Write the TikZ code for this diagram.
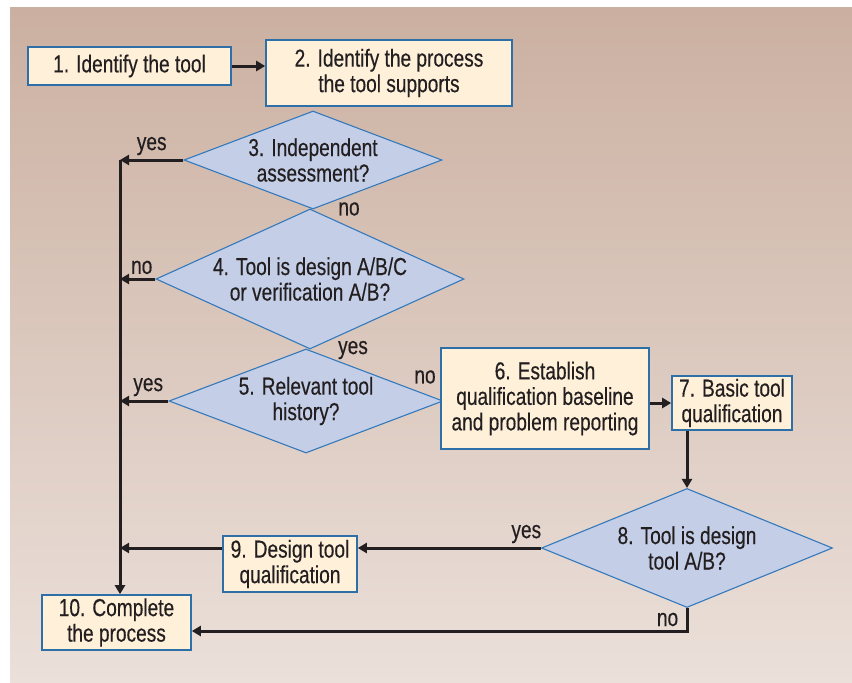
\documentclass[tikz,border=0pt]{standalone}
\usepackage{fontspec}
\setmainfont[FakeStretch=0.78, FakeBold=0.35]{Liberation Sans}
\usetikzlibrary{shapes.geometric, arrows.meta}

\definecolor{bgtop}{HTML}{CBB0A1}
\definecolor{bgbottom}{HTML}{EBE0DA}
\definecolor{boxfill}{HTML}{FFF0D9}
\definecolor{boxline}{HTML}{2F6FA8}
\definecolor{decfill}{HTML}{C4CEE7}
\definecolor{decline}{HTML}{3479BC}
\definecolor{ink}{HTML}{231F20}

\tikzset{
  stepbox/.style={draw=boxline, fill=boxfill, line width=1.6pt, align=center, inner sep=0pt, text=ink},
  decision/.style={diamond, draw=decline, fill=decfill, line width=1.1pt, align=center, inner sep=0pt, text=ink},
  flow/.style={draw=ink, line width=3pt},
  answer/.style={text=ink}
}

\begin{document}
\begin{tikzpicture}[x=1pt, y=-1pt, font=\fontsize{24.5}{25.5}\selectfont,
    >={Triangle[length=9pt,width=10pt]}]
    \useasboundingbox (0,0) rectangle (852,683);
    \shade[top color=bgtop, bottom color=bgbottom] (10,7) rectangle (852,683);

    \node[stepbox, minimum width=203pt, minimum height=38pt] (s1) at (129.5,66) {1. Identify the tool};
    \node[stepbox, minimum width=246pt, minimum height=66pt] (s2) at (389,73) {2. Identify the process\\the tool supports};

    \node[decision, aspect=2.63, minimum width=258pt, minimum height=98pt] (d3) at (313,160) {3. Independent\\assessment?};
    \node[decision, aspect=2.2, minimum width=308pt, minimum height=140pt] (d4) at (310,279) {4. Tool is design A/B/C\\or verification A/B?};
    \node[decision, aspect=2.63, minimum width=274pt, minimum height=104pt] (d5) at (306,401) {5. Relevant tool\\history?};

    \node[stepbox, minimum width=208pt, minimum height=101pt] (s6) at (545,398.5) {6. Establish\\qualification baseline\\and problem reporting};
    \node[stepbox, minimum width=120pt, minimum height=54pt] (s7) at (732,403) {7. Basic tool\\qualification};

    \node[decision, aspect=2.45, minimum width=291pt, minimum height=119pt] (d8) at (687,548) {8. Tool is design\\tool A/B?};
    \node[stepbox, minimum width=134pt, minimum height=56pt] (s9) at (290,564) {9. Design tool\\qualification};
    \node[stepbox, minimum width=149pt, minimum height=55pt] (s10) at (116.5,622.5) {10. Complete\\the process};

    % answers without a connector
    \node[answer] (no3) at (349,209) {no};
    \node[answer] (yes4) at (353,350) {yes};
    \node[answer] (no5) at (425,377) {no};

    \coordinate (trunk) at (120,160);

    \draw[flow, ->] (s1.east) -- (s1.east -| s2.west);
    \draw[flow, ->] (d3.west) -- node[answer, midway, above] {yes} (trunk);
    \draw[flow, ->] (trunk) -- (trunk |- s10.north);
    \draw[flow, ->] (d4.west) -- node[answer, midway, above, xshift=4pt] {no} (d4.west -| trunk);
    \draw[flow, ->] (d5.west) -- node[answer, midway, above, xshift=4pt] {yes} (d5.west -| trunk);
    \draw[flow, ->] (s6.east |- s7.west) -- (s7.west);
    \draw[flow, ->] (d8.north |- s7.south) -- (d8.north);
    \draw[flow, ->] (d8.west) -- node[answer, pos=0.08, above] {yes} (d8.west -| s9.east);
    \draw[flow, ->] (s9.west |- d8.west) -- (trunk |- d8.west);
    \draw[flow, ->] (d8.south) |- node[answer, pos=0.25, left, xshift=-4pt] {no} ([yshift=-8.5pt]s10.east);
\end{tikzpicture}
\end{document}
